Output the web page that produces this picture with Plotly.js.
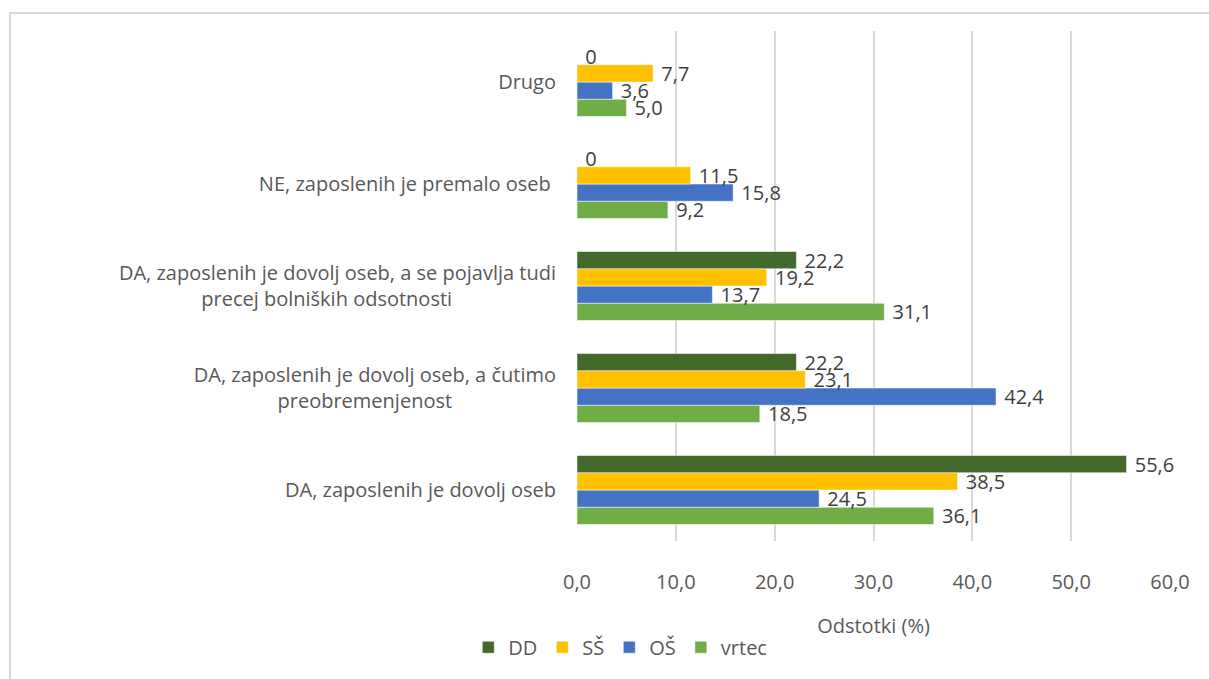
<!DOCTYPE html>
<html>
<head>
<meta charset="utf-8">
<script src="https://cdn.plot.ly/plotly-3.0.1.min.js"></script>
<style>
  html, body { margin: 0; padding: 0; background: #fff; }
  #wrap { position: relative; width: 1209px; height: 679px; }
  #chart { width: 1209px; height: 679px; }
  #frame { position: absolute; left: 9px; top: 12px; right: -5px; bottom: -5px;
           border-left: 2px solid #d9d9d9; border-top: 2px solid #d9d9d9; pointer-events: none; }
</style>
</head>
<body>
<div id="wrap">
  <div id="chart"></div>
  <div id="frame"></div>
</div>
<script>
// Categories, bottom to top
const categories = [
  "DA, zaposlenih je dovolj oseb",
  "DA, zaposlenih je dovolj oseb, a čutimo<br>preobremenjenost" + "\u00a0".repeat(20),
  "DA, zaposlenih je dovolj oseb, a se pojavlja tudi<br>precej bolniških odsotnosti" + "\u00a0".repeat(20),
  "NE, zaposlenih je premalo oseb\u00a0",
  "Drugo"
];
const seriesNames = ["DD", "SŠ", "OŠ", "vrtec"];
const DD    = [55.6, 22.2, 22.2, 0, 0];
const SS    = [38.5, 23.1, 19.2, 11.5, 7.7];
const OS    = [24.5, 42.4, 13.7, 15.8, 3.6];
const vrtec = [36.1, 18.5, 31.1, 9.2, 5.0];
const colors = { "DD": "#43682B", "SŠ": "#FFC000", "OŠ": "#4472C4", "vrtec": "#70AD47" };

function fmt(v) { return "\u00a0" + (v === 0 ? "0" : v.toFixed(1).replace(".", ",")); }

function mk(name, vals) {
  return {
    type: "bar", orientation: "h", name: name,
    y: categories, x: vals,
    text: vals.map(fmt), textposition: "outside", cliponaxis: false,
    constraintext: "none",
    textfont: { family: "Open Sans", size: 20, color: "#404040" },
    marker: { color: colors[name], line: { color: "rgba(255,255,255,0.7)", width: 0.75 } },
    hoverinfo: "x+name"
  };
}

// plotted bottom-to-top within each group: vrtec, OŠ, SŠ, DD
const data = [mk("vrtec", vrtec), mk("OŠ", OS), mk("SŠ", SS), mk("DD", DD)];

const layout = {
  width: 1209, height: 679,
  margin: { l: 577, r: 39, t: 31, b: 131, pad: 0 },
  paper_bgcolor: "#fff", plot_bgcolor: "#fff",
  separators: ", ",
  font: { family: "Open Sans", size: 20, color: "#595959" },
  barmode: "group", bargap: 0.323, bargroupgap: 0,
  showlegend: true,
  legend: {
    orientation: "h", traceorder: "reversed",
    x: 0.073, xanchor: "center", y: -0.17, yanchor: "top",
    font: { family: "Open Sans", size: 20, color: "#595959" },
    itemwidth: 30
  },
  xaxis: {
    range: [0, 60], dtick: 10, tickformat: ".1f",
    showgrid: true, gridcolor: "#d9d9d9", gridwidth: 2,
    zeroline: false, showline: false, ticks: "",
    ticklabelstandoff: 27,
    tickfont: { family: "Open Sans", size: 20, color: "#595959" },
    title: { text: "Odstotki (%)", standoff: 24, font: { family: "Open Sans", size: 20, color: "#595959" } }
  },
  yaxis: {
    type: "category", showgrid: false, zeroline: false, showline: false, ticks: "",
    ticklabelstandoff: 20,
    tickfont: { family: "Open Sans", size: 20, color: "#595959" }
  }
};

Plotly.newPlot("chart", data, layout, { displayModeBar: false });
</script>
</body>
</html>
